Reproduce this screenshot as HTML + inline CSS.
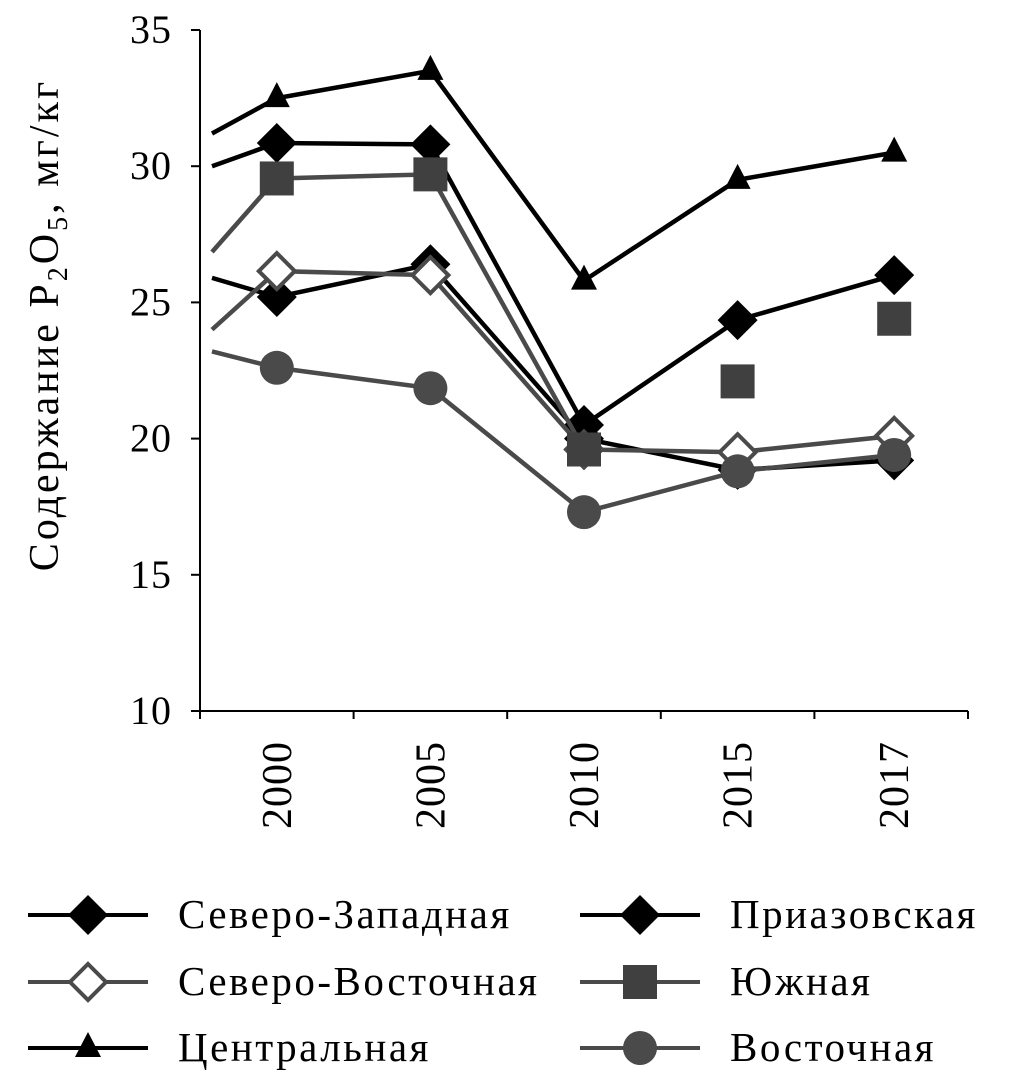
<!DOCTYPE html>
<html><head><meta charset="utf-8"><style>
body{margin:0;background:#fff;}
svg text{font-family:"Liberation Serif",serif;fill:#000;}
</style></head><body>
<svg id="c" width="1010" height="1078" xmlns="http://www.w3.org/2000/svg"></svg>
<script>
const categories=["2000","2005","2010","2015","2017"];
const yTicks=[10,15,20,25,30,35];
const seriesNames=["Северо-Западная","Приазовская","Северо-Восточная","Южная","Центральная","Восточная"];
const szValues=[30.85,30.8,20.5,24.35,26.0];
const prValues=[25.2,26.4,20.0,18.85,19.2];
const svValues=[26.15,26.0,19.6,19.5,20.1];
const yuValues=[29.55,29.7,19.6,22.1,24.4];
const ceValues=[32.5,33.5,25.8,29.5,30.5];
const voValues=[22.6,21.85,17.3,18.8,19.4];
const startValues=[30.0,25.9,24.0,26.85,31.2,23.2];
const yuLinePoints=3;

const NS="http://www.w3.org/2000/svg";
const svg=document.getElementById('c');
function el(t,a,p){const e=document.createElementNS(NS,t);for(const k in a)e.setAttribute(k,a[k]);(p||svg).appendChild(e);return e;}
const x0=200,x1=968,yTop=30,yBot=711,vmin=10,vmax=35;
const step=(x1-x0)/categories.length;
function xs(i){return x0+step*(i+0.5)+(i===4?3:0);}
function ys(v){return yBot-(v-vmin)/(vmax-vmin)*(yBot-yTop);}

let ax=el('line',{x1:x0,y1:yTop,x2:x0,y2:yBot,stroke:'#000','stroke-width':2});

let bx=el('line',{x1:x0,y1:yBot,x2:x1,y2:yBot,stroke:'#000','stroke-width':2});

yTicks.forEach(v=>{
 el('line',{x1:x0-9,y1:ys(v),x2:x0,y2:ys(v),stroke:'#000','stroke-width':2});
 const t=el('text',{x:172,y:ys(v)+13,'text-anchor':'end','font-size':40,'letter-spacing':1});t.textContent=v;
 
});
for(let i=0;i<=categories.length;i++){el('line',{x1:x0+step*i,y1:yBot,x2:x0+step*i,y2:yBot+8,stroke:'#000','stroke-width':2});}
categories.forEach((c,i)=>{
 const t=el('text',{transform:`translate(${xs(i)+14},741) rotate(-90)`,'text-anchor':'end','font-size':42,'letter-spacing':1});t.textContent=c;
 
});
const yt=el('text',{transform:'translate(58,325) rotate(-90)','text-anchor':'middle','font-size':42,'letter-spacing':3});
yt.innerHTML='Содержание P<tspan font-size="28" dy="9">2</tspan><tspan dy="-9">O</tspan><tspan font-size="28" dy="9">5</tspan><tspan dy="-9">,  мг/кг</tspan>';


function marker(type,x,y,g){
 if(type==='diamond')return el('polygon',{points:`${x},${y-20} ${x+20},${y} ${x},${y+20} ${x-20},${y}`,fill:'#000'},g);
 if(type==='odiamond')return el('polygon',{points:`${x},${y-18} ${x+18},${y} ${x},${y+18} ${x-18},${y}`,fill:'#fff',stroke:'#4a4a4a','stroke-width':4},g);
 if(type==='square')return el('rect',{x:x-17,y:y-17,width:34,height:34,fill:'#404040'},g);
 if(type==='triangle')return el('polygon',{points:`${x},${y-16} ${x+13},${y+9} ${x-13},${y+9}`,fill:'#000'},g);
 return el('circle',{cx:x,cy:y,r:17,fill:'#4a4a4a'},g);
}
const series=[
 {vals:szValues,type:'diamond',color:'#000',name:'series-severo-zapadnaya'},
 {vals:prValues,type:'diamond',color:'#000',name:'series-priazovskaya'},
 {vals:svValues,type:'odiamond',color:'#4a4a4a',name:'series-severo-vostochnaya'},
 {vals:yuValues,type:'square',color:'#4a4a4a',name:'series-yuzhnaya',n:yuLinePoints},
 {vals:ceValues,type:'triangle',color:'#000',name:'series-centralnaya'},
 {vals:voValues,type:'circle',color:'#4a4a4a',name:'series-vostochnaya'}
];
series.forEach((s,si)=>{
 const g=el('g',{});
 
 const n=s.n||s.vals.length;
 let pts=`212,${ys(startValues[si])} `;
 for(let i=0;i<n;i++)pts+=`${xs(i)},${ys(s.vals[i])} `;
 el('polyline',{points:pts,fill:'none',stroke:s.color,'stroke-width':4.5},g);
 s.vals.forEach((v,i)=>{const m=marker(s.type,xs(i),ys(v),g);
  });
});
const legPos=[[28,915],[580,915],[28,982],[580,982],[28,1048],[580,1048]];
series.forEach((s,i)=>{
 const [lx,ly]=legPos[i];
 const g=el('g',{});
 
 el('line',{x1:lx,y1:ly,x2:lx+120,y2:ly,stroke:s.color,'stroke-width':4},g);
 marker(s.type,lx+60,ly,g);
 const t=el('text',{x:lx+150,y:ly+13,'font-size':41,'letter-spacing':2.5},g);t.textContent=seriesNames[i];
});
</script>
</body></html>
